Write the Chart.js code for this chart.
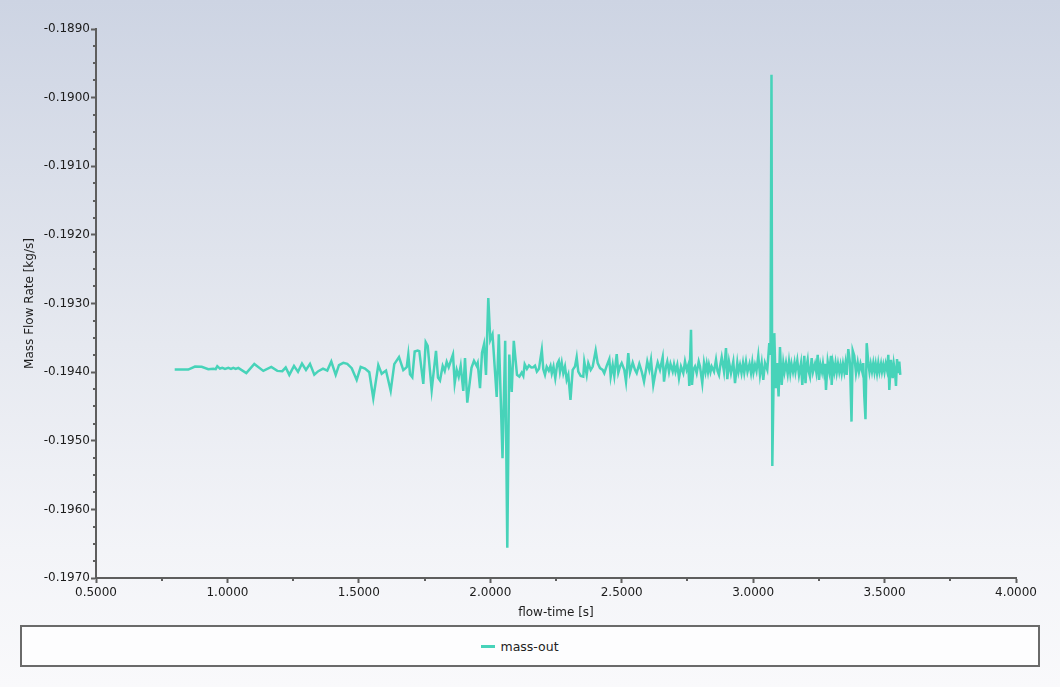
<!DOCTYPE html>
<html>
<head>
<meta charset="utf-8">
<script src="https://cdn.jsdelivr.net/npm/chart.js@4.4.1/dist/chart.umd.min.js"></script>
<style>
html,body{margin:0;padding:0;}
body{width:1060px;height:687px;overflow:hidden;position:relative;
  background:linear-gradient(to bottom,#cdd4e3 0%,#e6e9f0 50%,#f3f4f8 80%,#f9f9fb 100%);
  font-family:"DejaVu Sans",sans-serif;}
#wrap{position:absolute;left:0;top:0;width:1060px;height:687px;}
#legend{position:absolute;left:20px;top:625px;width:996px;padding-right:20px;height:38px;border:2px solid #6a6a6a;
  background:#fdfdfe;display:flex;align-items:center;justify-content:center;font-size:12.5px;color:#222;}
#legend .sw{display:inline-block;width:14px;height:3px;margin-right:5px;}
</style>
</head>
<body>
<div id="wrap"><canvas id="c" width="1060" height="687"></canvas></div>
<div id="legend"></div>
<script>
const seriesLabel = 'mass-out';
const xTitle = 'flow-time [s]';
const yTitle = 'Mass Flow Rate [kg/s]';
const xTicks = [0.5, 1.0, 1.5, 2.0, 2.5, 3.0, 3.5, 4.0];
const yTicks = [-0.1890, -0.1900, -0.1910, -0.1920, -0.1930, -0.1940, -0.1950, -0.1960, -0.1970];

const time = [
0.7994,0.8511,0.8766,0.9021,0.9272,0.9463,0.9554,0.9615,0.9717,0.9805,
0.9908,1.0033,1.0136,1.0223,1.0315,1.0414,1.0718,1.1022,1.1365,1.1669,
1.1897,1.2087,1.2217,1.2354,1.2533,1.2685,1.2837,1.2989,1.3141,1.3305,
1.3457,1.3636,1.3799,1.3952,1.4119,1.4244,1.4408,1.4560,1.4728,1.4918,
1.5070,1.5234,1.5397,1.5549,1.5740,1.5869,1.6033,1.6211,1.6348,1.6527,
1.6691,1.6820,1.6881,1.6946,1.7033,1.7124,1.7238,1.7299,1.7452,1.7543,
1.7619,1.7771,1.7935,1.8011,1.8087,1.8190,1.8266,1.8342,1.8418,1.8581,
1.8646,1.8722,1.8798,1.8874,1.8973,1.9038,1.9125,1.9285,1.9380,1.9483,
1.9521,1.9609,1.9685,1.9761,1.9837,1.9924,2.0000,2.0084,2.0244,2.0324,
2.0465,2.0567,2.0647,2.0723,2.0815,2.0894,2.1016,2.1104,2.1195,2.1256,
2.1309,2.1393,2.1473,2.1560,2.1636,2.1701,2.1773,2.1853,2.1891,2.1960,
2.2017,2.2081,2.2146,2.2226,2.2291,2.2340,2.2405,2.2473,2.2549,2.2606,
2.2652,2.2717,2.2778,2.2842,2.2907,2.2968,2.3051,2.3135,2.3223,2.3287,
2.3348,2.3439,2.3538,2.3576,2.3668,2.3729,2.3820,2.3896,2.4010,2.4086,
2.4174,2.4276,2.4337,2.4429,2.4528,2.4581,2.4657,2.4718,2.4809,2.4870,
2.4935,2.4999,2.5098,2.5163,2.5250,2.5315,2.5418,2.5505,2.5570,2.5669,
2.5760,2.5848,2.5924,2.5973,2.6049,2.6114,2.6201,2.6304,2.6369,2.6456,
2.6559,2.6609,2.6685,2.6734,2.6799,2.6856,2.6939,2.6989,2.7046,2.7114,
2.7179,2.7255,2.7343,2.7407,2.7472,2.7533,2.7571,2.7636,2.7674,2.7723,
2.7788,2.7852,2.7929,2.7978,2.8065,2.8130,2.8187,2.8233,2.8282,2.8320,
2.8377,2.8423,2.8511,2.8587,2.8644,2.8701,2.8758,2.8804,2.8891,2.8967,
2.9017,2.9081,2.9157,2.9245,2.9310,2.9397,2.9443,2.9500,2.9557,2.9614,
2.9663,2.9728,2.9785,2.9861,2.9918,2.9968,3.0013,3.0070,3.0127,3.0196,
3.0261,3.0325,3.0386,3.0451,3.0538,3.0614,3.0660,3.0698,3.0729,3.0805,
3.0858,3.0907,3.0968,3.1021,3.1086,3.1147,3.1193,3.1250,3.1314,3.1364,
3.1413,3.1459,3.1516,3.1573,3.1611,3.1680,3.1744,3.1820,3.1870,3.1946,
3.1992,3.2030,3.2075,3.2117,3.2163,3.2227,3.2277,3.2353,3.2402,3.2456,
3.2505,3.2562,3.2619,3.2657,3.2695,3.2733,3.2771,3.2836,3.2897,3.2962,
3.2988,3.3038,3.3087,3.3133,3.3179,3.3228,3.3277,3.3323,3.3369,3.3418,
3.3468,3.3513,3.3559,3.3620,3.3685,3.3742,3.3787,3.3848,3.3913,3.3977,
3.4027,3.4084,3.4152,3.4190,3.4229,3.4274,3.4320,3.4381,3.4426,3.4472,
3.4521,3.4571,3.4617,3.4662,3.4712,3.4761,3.4807,3.4864,3.4902,3.4951,
3.4997,3.5043,3.5092,3.5142,3.5180,3.5244,3.5309,3.5351,3.5396,3.5434,
3.5473,3.5522,3.5560,3.5598
];

const massOut = [
-0.193963,-0.193963,-0.193919,-0.193923,-0.193957,-0.193952,-0.193957,-0.193913,-0.193948,-0.193938,
-0.193952,-0.193938,-0.193952,-0.193938,-0.193952,-0.193938,-0.194015,-0.193880,-0.193982,-0.193923,
-0.193982,-0.193986,-0.193933,-0.194040,-0.193909,-0.193996,-0.193875,-0.193967,-0.193880,-0.194036,
-0.193986,-0.193948,-0.193977,-0.193846,-0.194040,-0.193898,-0.193865,-0.193880,-0.193942,-0.194113,
-0.193923,-0.193948,-0.194001,-0.194380,-0.193898,-0.194025,-0.193977,-0.194273,-0.193884,-0.193782,
-0.193971,-0.193928,-0.193744,-0.194030,-0.194073,-0.193700,-0.193686,-0.193694,-0.194171,-0.193563,
-0.193617,-0.194259,-0.193690,-0.194079,-0.194123,-0.193909,-0.193982,-0.193850,-0.193928,-0.193744,
-0.194161,-0.193967,-0.194069,-0.193909,-0.194273,-0.193796,-0.194444,-0.193938,-0.193836,-0.193909,
-0.193869,-0.194234,-0.193715,-0.193595,-0.194040,-0.192922,-0.193530,-0.193449,-0.194361,-0.193449,
-0.195254,-0.193544,-0.196558,-0.193744,-0.194288,-0.193544,-0.194040,-0.194065,-0.194006,-0.194054,
-0.193887,-0.193952,-0.193901,-0.193931,-0.193928,-0.193906,-0.193992,-0.193952,-0.193846,-0.193675,
-0.193960,-0.194040,-0.193923,-0.193979,-0.193909,-0.194018,-0.193919,-0.194088,-0.193880,-0.193836,
-0.193992,-0.193861,-0.194015,-0.193919,-0.194113,-0.194040,-0.194404,-0.193967,-0.193919,-0.193782,
-0.193992,-0.194054,-0.194065,-0.193846,-0.194040,-0.193869,-0.193967,-0.193919,-0.193686,-0.193869,
-0.193942,-0.193967,-0.194015,-0.193909,-0.193811,-0.194065,-0.193894,-0.194054,-0.193738,-0.194006,
-0.193919,-0.193869,-0.193967,-0.194138,-0.193724,-0.194006,-0.193861,-0.193967,-0.194015,-0.193880,
-0.193992,-0.194138,-0.193967,-0.193846,-0.193967,-0.193821,-0.194186,-0.193967,-0.193861,-0.193967,
-0.193782,-0.194138,-0.193919,-0.193846,-0.193996,-0.193880,-0.193989,-0.193887,-0.193996,-0.193894,
-0.194088,-0.193919,-0.194015,-0.193846,-0.193967,-0.193894,-0.194200,-0.193384,-0.194186,-0.193967,
-0.193919,-0.194015,-0.193846,-0.193919,-0.194161,-0.193869,-0.193996,-0.193880,-0.193996,-0.193894,
-0.193996,-0.193919,-0.193992,-0.193821,-0.193982,-0.194040,-0.193880,-0.193782,-0.193992,-0.193651,
-0.194103,-0.193846,-0.194015,-0.193846,-0.194161,-0.193861,-0.193996,-0.193894,-0.194015,-0.193869,
-0.194006,-0.193846,-0.193996,-0.193880,-0.194011,-0.193861,-0.194006,-0.193894,-0.193982,-0.193763,
-0.194040,-0.193869,-0.194113,-0.193869,-0.193967,-0.193578,-0.193748,-0.189666,-0.195367,-0.193432,
-0.194234,-0.193869,-0.194356,-0.193636,-0.194186,-0.193869,-0.193996,-0.193865,-0.194025,-0.193850,
-0.194015,-0.193880,-0.193996,-0.193865,-0.193992,-0.193831,-0.194040,-0.193869,-0.194186,-0.193763,
-0.194161,-0.193919,-0.193821,-0.193996,-0.194065,-0.193796,-0.193996,-0.193880,-0.193996,-0.193748,
-0.194113,-0.193894,-0.193996,-0.193880,-0.193992,-0.193880,-0.194259,-0.193846,-0.193992,-0.193763,
-0.194186,-0.193880,-0.193996,-0.193869,-0.194006,-0.193880,-0.193996,-0.193894,-0.194015,-0.193880,
-0.193996,-0.193869,-0.194040,-0.193665,-0.193869,-0.194721,-0.193686,-0.193763,-0.194015,-0.193861,
-0.193996,-0.193880,-0.193996,-0.193869,-0.194356,-0.194686,-0.193578,-0.193869,-0.193996,-0.193880,
-0.193992,-0.193869,-0.193996,-0.193880,-0.194015,-0.193869,-0.193996,-0.193880,-0.193992,-0.193894,
-0.193996,-0.193880,-0.193967,-0.193748,-0.194259,-0.193821,-0.194088,-0.193880,-0.193996,-0.194200,
-0.193811,-0.194015,-0.193846,-0.194040
];

const lineColor = '#47d3b9';
const axisColor = '#5e5e5e';
const textColor = '#1c1c1c';
const xMinorStep = 0.25;
const yMinorStep = 0.00025;

Chart.defaults.font.family = '"DejaVu Sans", sans-serif';
Chart.defaults.font.size = 12;
Chart.defaults.color = textColor;

const minorTicks = {
  id: 'minorTicks',
  afterDraw(chart) {
    const ctx = chart.ctx;
    const xs = chart.scales.x, ys = chart.scales.y;
    ctx.save();
    ctx.strokeStyle = axisColor;
    ctx.lineWidth = 2;
    ctx.beginPath();
    const nx = Math.round((xs.max - xs.min) / xMinorStep);
    for (let i = 0; i <= nx; i++) {
      const v = xs.min + i * xMinorStep;
      if (xTicks.some(t => Math.abs(t - v) < 1e-9)) continue;
      const px = Math.round(xs.getPixelForValue(v));
      ctx.moveTo(px, chart.chartArea.bottom);
      ctx.lineTo(px, chart.chartArea.bottom + 3);
    }
    const ny = Math.round((ys.max - ys.min) / yMinorStep);
    for (let i = 0; i <= ny; i++) {
      const v = ys.min + i * yMinorStep;
      if (yTicks.some(t => Math.abs(t - v) < 1e-9)) continue;
      const py = Math.round(ys.getPixelForValue(v));
      ctx.moveTo(chart.chartArea.left, py);
      ctx.lineTo(chart.chartArea.left - 3, py);
    }
    ctx.stroke();
    ctx.restore();
  }
};

const points = time.map((t, i) => ({x: t, y: massOut[i]}));

new Chart(document.getElementById('c'), {
  type: 'line',
  data: {
    datasets: [{
      label: seriesLabel,
      data: points,
      borderColor: lineColor,
      backgroundColor: lineColor,
      borderWidth: 2.5,
      pointRadius: 0,
      tension: 0,
      fill: false
    }]
  },
  options: {
    responsive: false,
    animation: false,
    layout: {padding: {left: 19, top: 29, right: 44, bottom: 63}},
    plugins: {legend: {display: false}, tooltip: {enabled: false}},
    scales: {
      x: {
        type: 'linear',
        min: 0.5, max: 4.0,
        afterBuildTicks: s => { s.ticks = xTicks.map(v => ({value: v})); },
        afterFit: s => { s.height = 46; },
        ticks: {callback: v => Number(v).toFixed(4), padding: 3, maxRotation: 0, color: textColor},
        grid: {display: true, drawOnChartArea: false, drawTicks: true, tickLength: 5, color: axisColor, tickWidth: 2},
        border: {display: true, color: axisColor, width: 2},
        title: {display: true, text: xTitle, color: textColor, font: {size: 12}}
      },
      y: {
        type: 'linear',
        min: -0.197, max: -0.189,
        afterBuildTicks: s => { s.ticks = yTicks.map(v => ({value: v})); },
        afterFit: s => { s.width = 77; },
        ticks: {callback: v => Number(v).toFixed(4), padding: 1, color: textColor},
        grid: {display: true, drawOnChartArea: false, drawTicks: true, tickLength: 5, color: axisColor, tickWidth: 2},
        border: {display: true, color: axisColor, width: 2},
        title: {display: true, text: yTitle, color: textColor, font: {size: 12}}
      }
    }
  },
  plugins: [minorTicks]
});

const lg = document.getElementById('legend');
const sw = document.createElement('span');
sw.className = 'sw';
sw.style.background = lineColor;
lg.appendChild(sw);
lg.appendChild(document.createTextNode(seriesLabel));
</script>
</body>
</html>
